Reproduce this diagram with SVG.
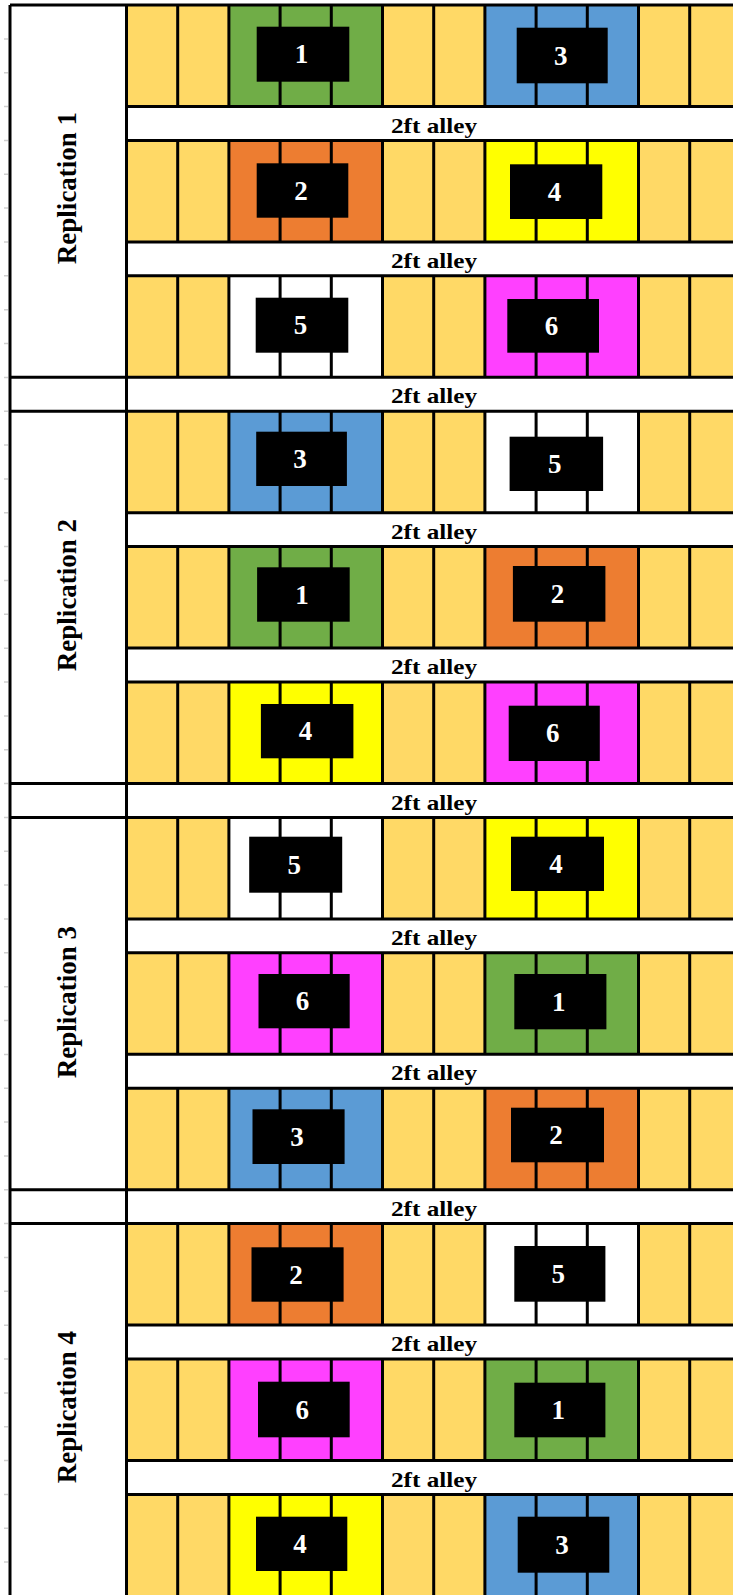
<svg xmlns="http://www.w3.org/2000/svg" width="733" height="1595" viewBox="0 0 733 1595">
<style>
.bg{fill:#ffffff}
.gold{fill:#FFD966}
.t1{fill:#70AD47}.t2{fill:#ED7D31}.t3{fill:#5B9BD5}.t4{fill:#FFFF00}.t5{fill:#FFFFFF}.t6{fill:#FF40FF}
.ln{stroke:#000;stroke-width:3;fill:none}
.tick{stroke:#cfcfcf;stroke-width:1.5}
.box{fill:#000}
.num{font-family:"Liberation Serif","Times New Roman",serif;font-weight:bold;font-size:27px;fill:#fff;text-anchor:middle}
.alley{font-family:"Liberation Serif","Times New Roman",serif;font-weight:bold;font-size:22px;fill:#000;text-anchor:middle}
.rep{font-family:"Liberation Serif","Times New Roman",serif;font-weight:bold;font-size:27px;fill:#000;text-anchor:middle}
</style>
<defs>
<path id="vl" d="M177.7 0V101.5M228.9 0V101.5M280.1 0V101.5M331.3 0V101.5M382.5 0V101.5M433.7 0V101.5M484.9 0V101.5M536.1 0V101.5M587.3 0V101.5M638.5 0V101.5M689.7 0V101.5"/>
</defs>
<rect class="bg" x="0" y="0" width="733" height="1595"/>

<g id="ticks" class="tick">
<path d="M4 38.9H8M4 72.7H8M4 106.6H8M4 140.4H8M4 174.3H8M4 208.1H8M4 242H8M4 275.8H8M4 309.7H8M4 343.5H8M4 377.4H8M4 411.2H8M4 445.1H8M4 478.9H8M4 512.8H8M4 546.6H8M4 580.5H8M4 614.3H8M4 648.2H8M4 682H8M4 715.9H8M4 749.7H8M4 783.6H8M4 817.4H8M4 851.3H8M4 885.1H8M4 919H8M4 952.8H8M4 986.7H8M4 1020.5H8M4 1054.4H8M4 1088.2H8M4 1122.1H8M4 1155.9H8M4 1189.8H8M4 1223.6H8M4 1257.5H8M4 1291.3H8M4 1325.2H8M4 1359H8M4 1392.9H8M4 1426.7H8M4 1460.6H8M4 1494.4H8M4 1528.3H8M4 1562.1H8"/>
</g>

<g id="fields">
<g id="row0"><rect class="gold" x="126.5" y="5" width="606.5" height="101.5"/><rect class="t1" x="228.9" y="5" width="153.6" height="101.5"/><rect class="t3" x="484.9" y="5" width="153.6" height="101.5"/><use href="#vl" class="ln" y="5"/></g>
<g id="row1"><rect class="gold" x="126.5" y="140.4" width="606.5" height="101.5"/><rect class="t2" x="228.9" y="140.4" width="153.6" height="101.5"/><rect class="t4" x="484.9" y="140.4" width="153.6" height="101.5"/><use href="#vl" class="ln" y="140.4"/></g>
<g id="row2"><rect class="gold" x="126.5" y="275.8" width="606.5" height="101.5"/><rect class="t5" x="228.9" y="275.8" width="153.6" height="101.5"/><rect class="t6" x="484.9" y="275.8" width="153.6" height="101.5"/><use href="#vl" class="ln" y="275.8"/></g>
<g id="row3"><rect class="gold" x="126.5" y="411.2" width="606.5" height="101.5"/><rect class="t3" x="228.9" y="411.2" width="153.6" height="101.5"/><rect class="t5" x="484.9" y="411.2" width="153.6" height="101.5"/><use href="#vl" class="ln" y="411.2"/></g>
<g id="row4"><rect class="gold" x="126.5" y="546.6" width="606.5" height="101.5"/><rect class="t1" x="228.9" y="546.6" width="153.6" height="101.5"/><rect class="t2" x="484.9" y="546.6" width="153.6" height="101.5"/><use href="#vl" class="ln" y="546.6"/></g>
<g id="row5"><rect class="gold" x="126.5" y="682" width="606.5" height="101.5"/><rect class="t4" x="228.9" y="682" width="153.6" height="101.5"/><rect class="t6" x="484.9" y="682" width="153.6" height="101.5"/><use href="#vl" class="ln" y="682"/></g>
<g id="row6"><rect class="gold" x="126.5" y="817.4" width="606.5" height="101.5"/><rect class="t5" x="228.9" y="817.4" width="153.6" height="101.5"/><rect class="t4" x="484.9" y="817.4" width="153.6" height="101.5"/><use href="#vl" class="ln" y="817.4"/></g>
<g id="row7"><rect class="gold" x="126.5" y="952.8" width="606.5" height="101.5"/><rect class="t6" x="228.9" y="952.8" width="153.6" height="101.5"/><rect class="t1" x="484.9" y="952.8" width="153.6" height="101.5"/><use href="#vl" class="ln" y="952.8"/></g>
<g id="row8"><rect class="gold" x="126.5" y="1088.2" width="606.5" height="101.5"/><rect class="t3" x="228.9" y="1088.2" width="153.6" height="101.5"/><rect class="t2" x="484.9" y="1088.2" width="153.6" height="101.5"/><use href="#vl" class="ln" y="1088.2"/></g>
<g id="row9"><rect class="gold" x="126.5" y="1223.6" width="606.5" height="101.5"/><rect class="t2" x="228.9" y="1223.6" width="153.6" height="101.5"/><rect class="t5" x="484.9" y="1223.6" width="153.6" height="101.5"/><use href="#vl" class="ln" y="1223.6"/></g>
<g id="row10"><rect class="gold" x="126.5" y="1359" width="606.5" height="101.5"/><rect class="t6" x="228.9" y="1359" width="153.6" height="101.5"/><rect class="t1" x="484.9" y="1359" width="153.6" height="101.5"/><use href="#vl" class="ln" y="1359"/></g>
<g id="row11"><rect class="gold" x="126.5" y="1494.4" width="606.5" height="101.5"/><rect class="t4" x="228.9" y="1494.4" width="153.6" height="101.5"/><rect class="t3" x="484.9" y="1494.4" width="153.6" height="101.5"/><use href="#vl" class="ln" y="1494.4"/></g>
</g>

<g id="gridlines" class="ln">
<path d="M10 5V1595M126.5 5V1595"/>
<path d="M10 5H733M126.5 106.5H733M126.5 140.4H733M126.5 241.9H733M126.5 275.8H733M10 377.3H733M10 411.2H733M126.5 512.7H733M126.5 546.6H733M126.5 648.1H733M126.5 682H733M10 783.5H733M10 817.4H733M126.5 918.9H733M126.5 952.8H733M126.5 1054.3H733M126.5 1088.2H733M10 1189.7H733M10 1223.6H733M126.5 1325.1H733M126.5 1359H733M126.5 1460.5H733M126.5 1494.4H733"/>
</g>

<g id="plot-r0-1"><rect class="box" x="256.7" y="26.7" width="92.6" height="55"/><text class="num" x="301.5" y="63.2">1</text></g>
<g id="plot-r0-3"><rect class="box" x="516.7" y="27.7" width="91" height="55.6"/><text class="num" x="560.7" y="64.5">3</text></g>
<g id="plot-r1-2"><rect class="box" x="256.7" y="163.3" width="91.6" height="54.4"/><text class="num" x="301" y="199.5">2</text></g>
<g id="plot-r1-4"><rect class="box" x="510" y="164.3" width="92.3" height="54.7"/><text class="num" x="554.6" y="200.6">4</text></g>
<g id="plot-r2-5"><rect class="box" x="255.7" y="297.7" width="92.6" height="55"/><text class="num" x="300.5" y="334.2">5</text></g>
<g id="plot-r2-6"><rect class="box" x="507.3" y="299" width="91.7" height="53.7"/><text class="num" x="551.6" y="334.8">6</text></g>
<g id="plot-r3-3"><rect class="box" x="256.2" y="431.7" width="90.7" height="54.3"/><text class="num" x="300" y="467.8">3</text></g>
<g id="plot-r3-5"><rect class="box" x="509.6" y="436.7" width="93.5" height="54.3"/><text class="num" x="554.8" y="472.8">5</text></g>
<g id="plot-r4-1"><rect class="box" x="257.1" y="567.3" width="92.6" height="54.4"/><text class="num" x="301.9" y="603.5">1</text></g>
<g id="plot-r4-2"><rect class="box" x="512.9" y="566" width="92.5" height="55.7"/><text class="num" x="557.6" y="602.8">2</text></g>
<g id="plot-r5-4"><rect class="box" x="260.9" y="704" width="92.5" height="54.3"/><text class="num" x="305.6" y="740.1">4</text></g>
<g id="plot-r5-6"><rect class="box" x="508.7" y="705.7" width="91.1" height="55.3"/><text class="num" x="552.7" y="742.3">6</text></g>
<g id="plot-r6-5"><rect class="box" x="249.2" y="836.7" width="93" height="56"/><text class="num" x="294.2" y="873.7">5</text></g>
<g id="plot-r6-4"><rect class="box" x="511" y="836.7" width="93" height="54.3"/><text class="num" x="556" y="872.8">4</text></g>
<g id="plot-r7-6"><rect class="box" x="258.5" y="974" width="91.2" height="54.3"/><text class="num" x="302.6" y="1010.1">6</text></g>
<g id="plot-r7-1"><rect class="box" x="514.3" y="974" width="92.1" height="55.3"/><text class="num" x="558.8" y="1010.6">1</text></g>
<g id="plot-r8-3"><rect class="box" x="252.5" y="1109.3" width="92.1" height="54.7"/><text class="num" x="297" y="1145.6">3</text></g>
<g id="plot-r8-2"><rect class="box" x="511" y="1107.7" width="93" height="54.6"/><text class="num" x="556" y="1144">2</text></g>
<g id="plot-r9-2"><rect class="box" x="251.5" y="1247.3" width="92.1" height="54.4"/><text class="num" x="296" y="1283.5">2</text></g>
<g id="plot-r9-5"><rect class="box" x="514.3" y="1246" width="91.1" height="55.7"/><text class="num" x="558.3" y="1282.8">5</text></g>
<g id="plot-r10-6"><rect class="box" x="258" y="1381.7" width="91.7" height="55.6"/><text class="num" x="302.3" y="1418.5">6</text></g>
<g id="plot-r10-1"><rect class="box" x="514.3" y="1382.7" width="91.1" height="54.6"/><text class="num" x="558.3" y="1419">1</text></g>
<g id="plot-r11-4"><rect class="box" x="256" y="1516.7" width="91.3" height="54.3"/><text class="num" x="300.1" y="1552.8">4</text></g>
<g id="plot-r11-3"><rect class="box" x="517.7" y="1516.7" width="91.6" height="56"/><text class="num" x="562" y="1553.7">3</text></g>

<g id="alleys">
<text class="alley" x="434" y="132.5" textLength="86" lengthAdjust="spacingAndGlyphs">2ft alley</text>
<text class="alley" x="434" y="267.9" textLength="86" lengthAdjust="spacingAndGlyphs">2ft alley</text>
<text class="alley" x="434" y="403.3" textLength="86" lengthAdjust="spacingAndGlyphs">2ft alley</text>
<text class="alley" x="434" y="538.7" textLength="86" lengthAdjust="spacingAndGlyphs">2ft alley</text>
<text class="alley" x="434" y="674.1" textLength="86" lengthAdjust="spacingAndGlyphs">2ft alley</text>
<text class="alley" x="434" y="809.5" textLength="86" lengthAdjust="spacingAndGlyphs">2ft alley</text>
<text class="alley" x="434" y="944.9" textLength="86" lengthAdjust="spacingAndGlyphs">2ft alley</text>
<text class="alley" x="434" y="1080.3" textLength="86" lengthAdjust="spacingAndGlyphs">2ft alley</text>
<text class="alley" x="434" y="1215.7" textLength="86" lengthAdjust="spacingAndGlyphs">2ft alley</text>
<text class="alley" x="434" y="1351.1" textLength="86" lengthAdjust="spacingAndGlyphs">2ft alley</text>
<text class="alley" x="434" y="1486.5" textLength="86" lengthAdjust="spacingAndGlyphs">2ft alley</text>
</g>

<g id="replications">
<text class="rep" transform="translate(76 188) rotate(-90)">Replication 1</text>
<text class="rep" transform="translate(76 595) rotate(-90)">Replication 2</text>
<text class="rep" transform="translate(76 1002) rotate(-90)">Replication 3</text>
<text class="rep" transform="translate(76 1407) rotate(-90)">Replication 4</text>
</g>
</svg>
